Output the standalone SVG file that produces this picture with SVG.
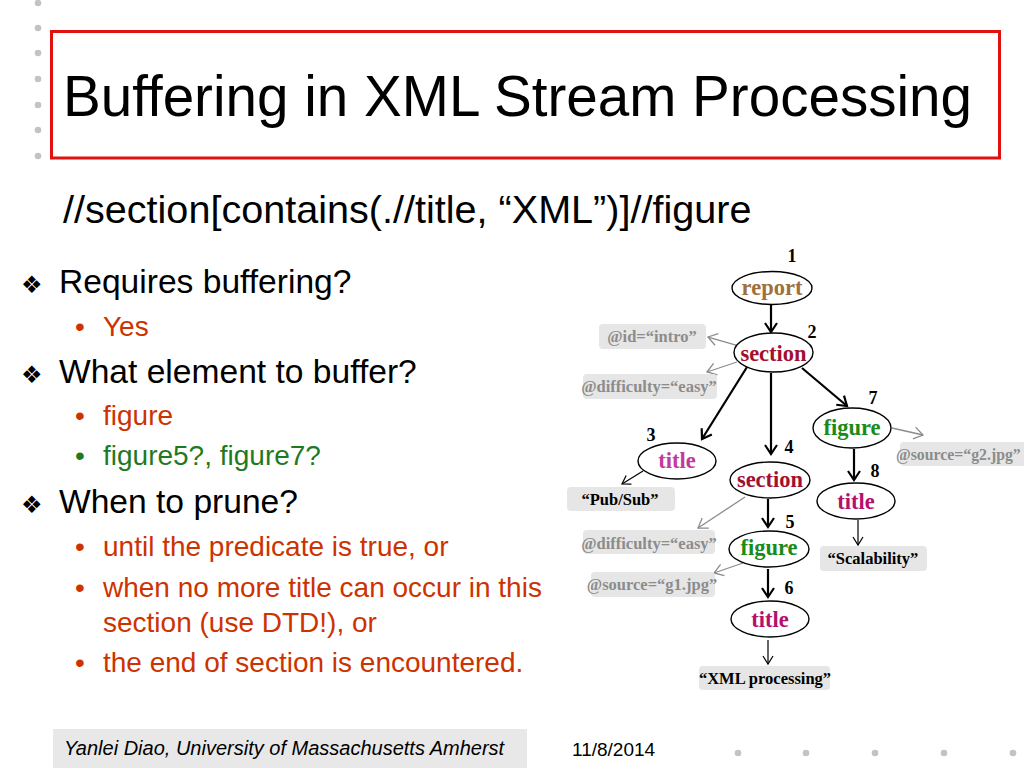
<svg xmlns="http://www.w3.org/2000/svg" width="1024" height="768" viewBox="0 0 1024 768">
<defs>
<style>
.sans{font-family:"Liberation Sans",Arial,sans-serif}
.serif{font-family:"Liberation Serif","Times New Roman",serif;font-weight:bold}
.node ellipse{fill:#fff;stroke:#000;stroke-width:1.4}
.lbl{font-size:22.5px;text-anchor:middle}
.num{font-size:18px;text-anchor:middle;fill:#000}
.box{fill:#e6e6e6}
.attr{font-size:16.5px;fill:#8c8c8c;text-anchor:middle}
.val{font-size:16.5px;fill:#000;text-anchor:middle}
.red{fill:#cc3300}
.grn{fill:#1f7a1f}
.dot{fill:#c3c3c3}
.dia{font-family:"DejaVu Sans",sans-serif;font-size:24px;fill:#000}
.e-bold{stroke:#000;stroke-width:2.2;fill:none}
.e-thin{stroke:#000;stroke-width:1.2;fill:none}
.e-gray{stroke:#8c8c8c;stroke-width:1.3;fill:none}
</style>
<marker id="ab" markerUnits="userSpaceOnUse" markerWidth="20" markerHeight="20" refX="0" refY="0" orient="auto" overflow="visible"><path d="M-9,-6 L0,0 L-9,6" fill="none" stroke="#000" stroke-width="2.2"/></marker>
<marker id="at" markerUnits="userSpaceOnUse" markerWidth="20" markerHeight="20" refX="0" refY="0" orient="auto" overflow="visible"><path d="M-8,-5 L0,0 L-8,5" fill="none" stroke="#000" stroke-width="1.2"/></marker>
<marker id="ag" markerUnits="userSpaceOnUse" markerWidth="20" markerHeight="20" refX="0" refY="0" orient="auto" overflow="visible"><path d="M-9,-6 L0,0 L-9,6" fill="none" stroke="#8c8c8c" stroke-width="1.3"/></marker>
</defs>
<rect width="1024" height="768" fill="#fff"/>

<g id="left-dots">
<circle class="dot" cx="38" cy="3" r="3.3"/>
<circle class="dot" cx="38" cy="28" r="3.3"/>
<circle class="dot" cx="38" cy="53" r="3.3"/>
<circle class="dot" cx="38" cy="79" r="3.3"/>
<circle class="dot" cx="38" cy="105" r="3.3"/>
<circle class="dot" cx="38" cy="130" r="3.3"/>
<circle class="dot" cx="38" cy="156" r="3.3"/>
</g>

<g id="title">
<rect x="51.5" y="31.5" width="948" height="126.5" fill="none" stroke="#e31010" stroke-width="3"/>
<text class="sans" x="63" y="116" font-size="56.6" fill="#000">Buffering in XML Stream Processing</text>
</g>

<text id="query" class="sans" x="63" y="223" font-size="39.6" fill="#000">//section[contains(.//title, “XML”)]//figure</text>

<g id="bullets" class="sans">
<text class="dia" x="21" y="293">❖</text>
<text x="59" y="293" font-size="33.6" fill="#000">Requires buffering?</text>
<text class="red" x="75" y="336" font-size="28">•</text>
<text class="red" x="103" y="336" font-size="28">Yes</text>
<text class="dia" x="21" y="383">❖</text>
<text x="59" y="383" font-size="33.6" fill="#000">What element to buffer?</text>
<text class="red" x="75" y="425" font-size="28">•</text>
<text class="red" x="103" y="425" font-size="28">figure</text>
<text class="grn" x="75" y="465" font-size="28">•</text>
<text class="grn" x="103" y="465" font-size="28">figure5?, figure7?</text>
<text class="dia" x="21" y="513">❖</text>
<text x="59" y="513" font-size="33.6" fill="#000">When to prune?</text>
<text class="red" x="75" y="556" font-size="28">•</text>
<text class="red" x="103" y="556" font-size="28">until the predicate is true, or</text>
<text class="red" x="75" y="597" font-size="28">•</text>
<text class="red" x="103" y="597" font-size="28">when no more title can occur in this</text>
<text class="red" x="103" y="632" font-size="28">section (use DTD!), or</text>
<text class="red" x="75" y="672" font-size="28">•</text>
<text class="red" x="103" y="672" font-size="28">the end of section is encountered.</text>
</g>

<g id="connectors">
<line class="e-bold" x1="771" y1="305" x2="771" y2="332" marker-end="url(#ab)"/>
<line class="e-bold" x1="747" y1="367" x2="702" y2="439" marker-end="url(#ab)"/>
<line class="e-bold" x1="771" y1="373" x2="771" y2="454" marker-end="url(#ab)"/>
<line class="e-bold" x1="802" y1="368" x2="847" y2="406" marker-end="url(#ab)"/>
<line class="e-bold" x1="768" y1="499" x2="768" y2="527" marker-end="url(#ab)"/>
<line class="e-bold" x1="768" y1="569" x2="768" y2="597" marker-end="url(#ab)"/>
<line class="e-bold" x1="854" y1="449" x2="854" y2="480" marker-end="url(#ab)"/>
<line class="e-thin" x1="643" y1="471" x2="622" y2="484" marker-end="url(#at)"/>
<line class="e-thin" x1="858" y1="520" x2="858" y2="545" marker-end="url(#at)"/>
<line class="e-thin" x1="768" y1="640" x2="768" y2="664" marker-end="url(#at)"/>
<line class="e-gray" x1="736" y1="345" x2="708" y2="337" marker-end="url(#ag)"/>
<line class="e-gray" x1="737" y1="362" x2="707" y2="372" marker-end="url(#ag)"/>
<line class="e-gray" x1="745" y1="497" x2="698" y2="528" marker-end="url(#ag)"/>
<line class="e-gray" x1="743" y1="563" x2="714" y2="573" marker-end="url(#ag)"/>
<line class="e-gray" x1="892" y1="428" x2="923" y2="435" marker-end="url(#ag)"/>
</g>

<g id="n1-report" class="node serif">
<ellipse cx="772" cy="288" rx="40" ry="16.5"/>
<text class="lbl" x="772" y="295" fill="#a0703c">report</text>
<text class="num" x="792" y="262">1</text>
</g>

<g id="n2-section" class="node serif">
<ellipse cx="773.5" cy="352.5" rx="39.5" ry="19.5"/>
<text class="lbl" x="773.5" y="361" fill="#a3102f">section</text>
<text class="num" x="812" y="338">2</text>
</g>

<g id="attr-id" class="serif">
<rect class="box" x="599" y="324" width="107" height="25" rx="4"/>
<text class="attr" x="652" y="342">@id=“intro”</text>
</g>

<g id="attr-difficulty-1" class="serif">
<rect class="box" x="583" y="374" width="134" height="25" rx="4"/>
<text class="attr" x="649" y="392">@difficulty=“easy”</text>
</g>

<g id="n3-title" class="node serif">
<ellipse cx="677" cy="461" rx="39" ry="18"/>
<text class="lbl" x="677" y="468" fill="#c23a9c">title</text>
<text class="num" x="651" y="441">3</text>
</g>

<g id="val-pubsub" class="serif">
<rect class="box" x="567" y="487" width="108" height="24" rx="4"/>
<text class="val" x="620" y="505">“Pub/Sub”</text>
</g>

<g id="n4-section" class="node serif">
<ellipse cx="770" cy="480" rx="40" ry="18"/>
<text class="lbl" x="770" y="487" fill="#a3102f">section</text>
<text class="num" x="789" y="453">4</text>
</g>

<g id="attr-difficulty-2" class="serif">
<rect class="box" x="583" y="530" width="132" height="24" rx="4"/>
<text class="attr" x="649" y="549">@difficulty=“easy”</text>
</g>

<g id="n5-figure" class="node serif">
<ellipse cx="769" cy="549" rx="40" ry="18"/>
<text class="lbl" x="769" y="555" fill="#1a8a1a">figure</text>
<text class="num" x="790" y="528">5</text>
</g>

<g id="attr-source-g1" class="serif">
<rect class="box" x="591" y="572" width="124" height="25" rx="4"/>
<text class="attr" x="652" y="590">@source=“g1.jpg”</text>
</g>

<g id="n6-title" class="node serif">
<ellipse cx="770" cy="619" rx="39" ry="18"/>
<text class="lbl" x="770" y="627" fill="#b5106c">title</text>
<text class="num" x="789" y="594">6</text>
</g>

<g id="val-xml" class="serif">
<rect class="box" x="699" y="666" width="131" height="24" rx="4"/>
<text class="val" x="765" y="684">“XML processing”</text>
</g>

<g id="n7-figure" class="node serif">
<ellipse cx="852" cy="428" rx="39" ry="20"/>
<text class="lbl" x="852" y="435" fill="#1a8a1a">figure</text>
<text class="num" x="873" y="404">7</text>
</g>

<g id="attr-source-g2" class="serif">
<rect class="box" x="900" y="442" width="130" height="24" rx="4"/>
<text x="896" y="460" font-size="15.8" fill="#8c8c8c">@source=“g2.jpg”</text>
</g>

<g id="n8-title" class="node serif">
<ellipse cx="856" cy="501" rx="39" ry="18"/>
<text class="lbl" x="856" y="509" fill="#b5106c">title</text>
<text class="num" x="875" y="477">8</text>
</g>

<g id="val-scalability" class="serif">
<rect class="box" x="820" y="546" width="107" height="25" rx="4"/>
<text class="val" x="873" y="564">“Scalability”</text>
</g>

<g id="footer">
<rect x="53" y="729" width="474" height="40" fill="#e8e8e8"/>
<text class="sans" x="64" y="755" font-size="20" font-style="italic" fill="#000">Yanlei Diao, University of Massachusetts Amherst</text>
<text class="sans" x="572" y="756" font-size="19" fill="#000">11/8/2014</text>
<circle class="dot" cx="738" cy="753" r="3.3"/>
<circle class="dot" cx="806" cy="753" r="3.3"/>
<circle class="dot" cx="875" cy="753" r="3.3"/>
<circle class="dot" cx="944" cy="753" r="3.3"/>
<circle class="dot" cx="1013" cy="753" r="3.3"/>
</g>
</svg>
